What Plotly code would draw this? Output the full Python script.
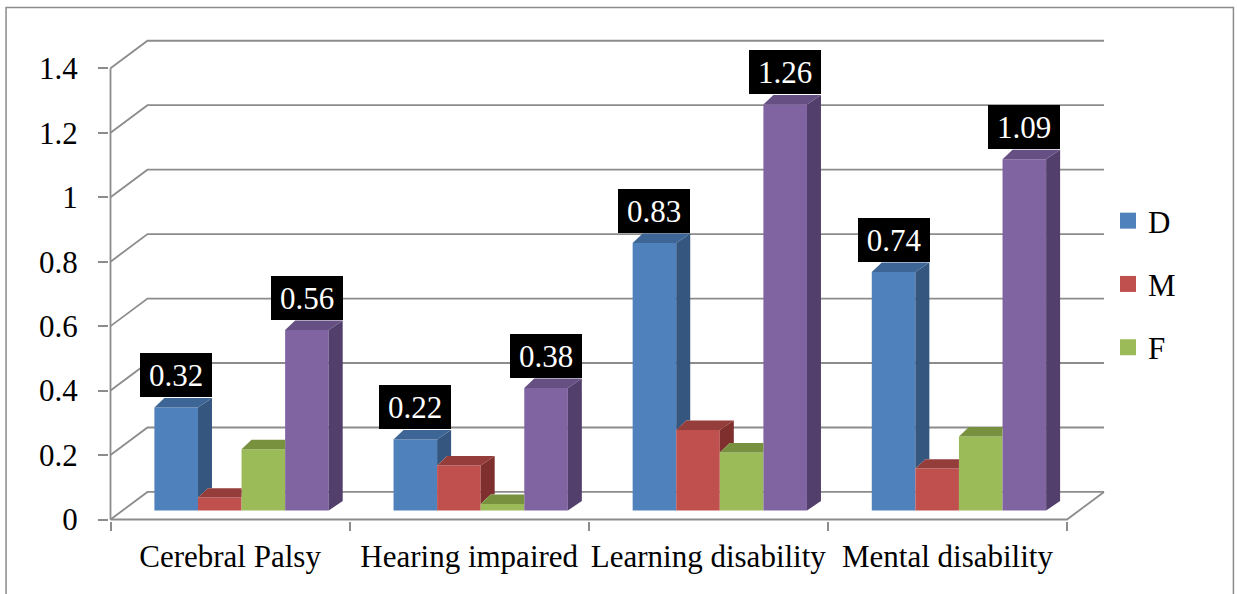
import plotly.graph_objects as go

# ---- data -------------------------------------------------------------
categories = ["Cerebral Palsy", "Hearing impaired", "Learning disability", "Mental disability"]
series_names = ["D", "M", "F", ""]
d_values = [0.32, 0.22, 0.83, 0.74]
m_values = [0.04, 0.14, 0.25, 0.13]
f_values = [0.19, 0.02, 0.18, 0.23]
p_values = [0.56, 0.38, 1.26, 1.09]
y_tick_vals = [0, 0.2, 0.4, 0.6, 0.8, 1.0, 1.2, 1.4]
y_tick_text = ["0", "0.2", "0.4", "0.6", "0.8", "1", "1.2", "1.4"]

all_series = [d_values, m_values, f_values, p_values]
labelled = [True, False, False, True]

# front / top / side face colours per series
front_cols = ["#4f81bd", "#c0504d", "#9bbb59", "#8064a2"]
top_cols = ["#3d6696", "#953d3b", "#77913f", "#654f83"]
side_cols = ["#34567f", "#7f302e", "#667c36", "#533f6c"]

# ---- geometry (pixels) ------------------------------------------------
W, H = 1237, 594
X0_PX, CAT_PX = 110.0, 239.25      # category axis origin and width of one category
Y0_PX, VAL_PX = 520.0, 322.6       # value-axis origin and pixels per unit
WALL_DX, WALL_DY = 37.0, 27.6      # depth of the floor / back wall
BAR_PX = 43.6                      # bar width
BAR_SHIFT_X, BAR_BASE_Y = 11.5, 9.0
BAR_DR, BAR_DL, BAR_DD = 14.0, 10.0, 9.5

PLOT_L, PLOT_R, PLOT_T, PLOT_B = 108.5, 1107.0, 37.0, 521.5


def ux(px):
    return px / CAT_PX


def uy(px):
    return px / VAL_PX


def paper_x(px):
    return (px - PLOT_L) / (PLOT_R - PLOT_L)


def paper_y(py):
    return (PLOT_B - py) / (PLOT_B - PLOT_T)


x_range = [(PLOT_L - X0_PX) / CAT_PX, (PLOT_R - X0_PX) / CAT_PX]
y_range = [(Y0_PX - PLOT_B) / VAL_PX, (Y0_PX - PLOT_T) / VAL_PX]

n_cat = len(categories)
wdx, wdy = ux(WALL_DX), uy(WALL_DY)
bw = ux(BAR_PX)
base = uy(BAR_BASE_Y)
dr, dl, dd = ux(BAR_DR), ux(BAR_DL), uy(BAR_DD)

grid_col = "#8c8c8c"
serif = "Liberation Serif, Times New Roman, serif"

fig = go.Figure()
shapes = []

# back wall gridlines with their diagonal leg on the side wall
for v in y_tick_vals:
    shapes.append(dict(type="path", xref="x", yref="y", layer="below",
                       path=f"M0,{v} L{wdx},{v + wdy} L{n_cat + wdx},{v + wdy}",
                       line=dict(color=grid_col, width=1.8)))
# floor front edge and right edge
shapes.append(dict(type="path", xref="x", yref="y", layer="below",
                   path=f"M0,0 L{n_cat},0 L{n_cat + wdx},{wdy}",
                   line=dict(color=grid_col, width=1.8)))
# value axis line
shapes.append(dict(type="line", xref="x", yref="y", layer="below",
                   x0=0, x1=0, y0=0, y1=y_tick_vals[-1],
                   line=dict(color=grid_col, width=1.8)))
# chart border
shapes.append(dict(type="rect", xref="paper", yref="paper", layer="below",
                   x0=paper_x(5.5), x1=paper_x(1233.5), y0=paper_y(598), y1=paper_y(7.5),
                   line=dict(color="#8c8c8c", width=1.5), fillcolor="rgba(0,0,0,0)"))


def centre(i, j):
    return i + 0.5 + ux(BAR_SHIFT_X) + (j - 1.5) * bw


# front faces as bars
for j, vals in enumerate(all_series):
    fig.add_trace(go.Bar(
        x=[centre(i, j) for i in range(n_cat)], y=vals, base=base, width=bw,
        marker=dict(color=front_cols[j], line=dict(width=0)),
        showlegend=False, hoverinfo="skip"))


def poly(xs, ys, color):
    fig.add_trace(go.Scatter(x=xs + [xs[0]], y=ys + [ys[0]], mode="lines", fill="toself",
                             fillcolor=color, line=dict(width=0, color=color),
                             showlegend=False, hoverinfo="skip"))


# top and side faces, trimmed where the neighbouring bar hides them
for i in range(n_cat):
    for j, vals in enumerate(all_series):
        c = centre(i, j)
        x0, x1 = c - bw / 2, c + bw / 2
        y0, y1 = base, base + vals[i]
        nxt = base + all_series[j + 1][i] if j + 1 < len(all_series) else None
        # side face
        if nxt is None:
            poly([x1, x1, x1 + dr, x1 + dr], [y0, y1, y1 + dd, y0 + dd], side_cols[j])
        elif nxt < y1:
            lo = max(y0, nxt)
            poly([x1, x1, x1 + dr, x1 + dr, x1 + dl],
                 [lo, y1, y1 + dd, lo + dd, lo + dd], side_cols[j])
        # top face
        if nxt is None or nxt <= y1:
            poly([x0, x1, x1 + dr, x0 + dl], [y1, y1, y1 + dd, y1 + dd], top_cols[j])
        elif nxt >= y1 + dd:
            poly([x0, x1, x1, x0 + dl], [y1, y1, y1 + dd, y1 + dd], top_cols[j])
        else:
            xc = x1 + dl * (y1 + dd - nxt) / dd
            poly([x0, x1, x1, xc, x0 + dl], [y1, y1, nxt, y1 + dd, y1 + dd], top_cols[j])

# legend entries
for j in range(3):
    fig.add_trace(go.Scatter(x=[None], y=[None], mode="markers", name=series_names[j],
                             legendgroup=series_names[j],
                             marker=dict(symbol="square", size=16, color=front_cols[j],
                                         line=dict(width=0))))

# value labels
annotations = []
for j, vals in enumerate(all_series):
    if not labelled[j]:
        continue
    for i, v in enumerate(vals):
        annotations.append(dict(
            x=centre(i, j), y=base + v + dd, xref="x", yref="y",
            text=f"{v:.2f}", showarrow=False, xanchor="center", yanchor="bottom",
            yshift=1, bgcolor="black", bordercolor="black", borderwidth=1, borderpad=0,
            width=70, height=42, font=dict(family=serif, size=31, color="white")))

fig.update_layout(
    width=W, height=H,
    margin=dict(l=PLOT_L, r=W - PLOT_R, t=PLOT_T, b=H - PLOT_B, pad=0, autoexpand=False),
    paper_bgcolor="white", plot_bgcolor="white",
    barmode="overlay",
    shapes=shapes, annotations=annotations,
    font=dict(family=serif, size=31, color="black"),
    showlegend=True,
    legend=dict(xref="container", yref="container", x=1108 / W, y=1 - 194 / H,
                xanchor="left", yanchor="top", traceorder="grouped", tracegroupgap=20,
                font=dict(family=serif, size=31, color="black"),
                bgcolor="rgba(0,0,0,0)", itemclick=False, itemdoubleclick=False),
    xaxis=dict(range=x_range, showgrid=False, zeroline=False, showline=False,
               automargin=False,
               tickmode="array", tickvals=list(range(n_cat + 1)), showticklabels=False,
               ticks="outside", ticklen=9, tickwidth=1.8, tickcolor=grid_col, fixedrange=True),
    xaxis2=dict(range=x_range, overlaying="x", side="bottom", showgrid=False, zeroline=False,
                showline=False, automargin=False,
                tickmode="array", tickvals=[i + 0.5 for i in range(n_cat)],
                ticktext=categories, ticks="", ticklabelstandoff=14,
                tickfont=dict(family=serif, size=31, color="black"), fixedrange=True),
    yaxis=dict(range=y_range, showgrid=False, zeroline=False, showline=False,
               automargin=False,
               tickmode="array", tickvals=y_tick_vals, ticktext=y_tick_text,
               ticks="outside", ticklen=10, tickwidth=1.8, tickcolor=grid_col,
               ticklabelstandoff=14, tickfont=dict(family=serif, size=31, color="black"),
               fixedrange=True),
)

# a transparent trace so the category axis is rendered
fig.add_trace(go.Scatter(x=[0.5], y=[0], xaxis="x2", mode="markers",
                         marker=dict(opacity=0), showlegend=False, hoverinfo="skip"))

fig.write_html("out.html")
